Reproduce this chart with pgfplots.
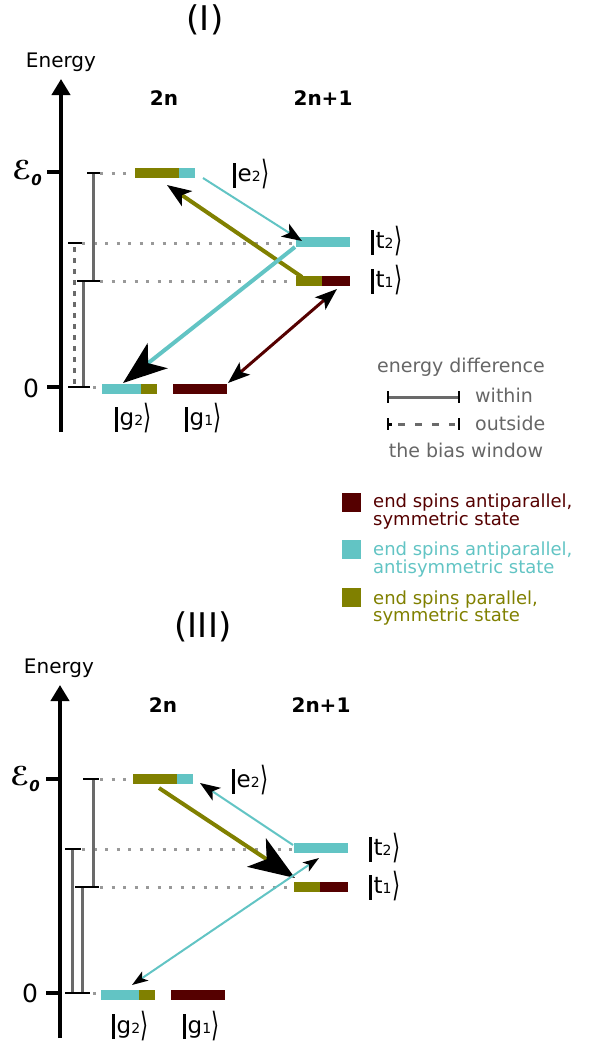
\RequirePackage{fix-cm}
\documentclass[border=0pt]{standalone}
\usepackage{graphicx}
\usepackage{fontspec}
\setmainfont{DejaVu Sans}
\usepackage{pgfplots}
\pgfplotsset{compat=1.18}
\usetikzlibrary{arrows.meta}
\definecolor{cMar}{HTML}{550000}
\definecolor{cCya}{HTML}{62C4C4}
\definecolor{cOli}{HTML}{808000}
\definecolor{cBar}{HTML}{6A6A6A}
\definecolor{cDot}{HTML}{999999}
\definecolor{cTxt}{HTML}{666666}
\newcommand{\myket}[2]{\rule[-6pt]{3pt}{25pt}\kern1.5pt #1{\fontsize{14}{14}\selectfont #2}\kern0.5pt\raisebox{-3pt}{\scalebox{0.9}[1.45]{⟩}}}
\newcommand{\epsz}{{\bfseries\itshape ℰ}\raisebox{-6pt}{\fontsize{15}{15}\selectfont\bfseries\itshape 0}}
\tikzset{
  axarr/.style={arrows={-Triangle[length=16pt,width=18pt]}},
  hA/.style={arrows={-Stealth[length=20pt,width=15pt,inset=5pt,color=black]}},
  hB/.style={arrows={-Stealth[length=24pt,width=18pt,inset=6pt,color=black]}},
  hC/.style={arrows={-Stealth[length=44pt,width=32pt,inset=12pt,color=black]}},
  hD/.style={arrows={-Stealth[length=22pt,width=16pt,inset=5pt,color=black]}},
  hE/.style={arrows={-Stealth[length=46pt,width=34pt,inset=12pt,color=black]}},
  hF/.style={arrows={-Stealth[length=16pt,width=11pt,inset=4pt,color=black]}},
  lvl/.style={line width=10pt},
  dotl/.style={color=cDot, line width=3pt, dash pattern=on 3pt off 8.5pt},
  dbar/.style={color=cBar, line width=3pt},
  tck/.style={color=black, line width=1.8pt},
}
\begin{document}
\begin{tikzpicture}
\begin{axis}[name=ax, scale only axis, width=591pt, height=1045pt,
  xmin=0, xmax=591, ymin=0, ymax=1045, y dir=reverse, hide axis, clip=false]
\addplot[draw=none] coordinates {(0,0) (591,1045)};
% PANEL (I)
\addplot[color=black, line width=4pt, axarr] coordinates {(61,432) (61,79)};
\addplot[color=black, line width=4pt] coordinates {(47,172) (61,172)};
\addplot[color=black, line width=4pt] coordinates {(47,387) (61,387)};
\addplot[dotl] coordinates {(100,173) (133,173)};
\addplot[dotl] coordinates {(82,243) (296,243)};
\addplot[dotl] coordinates {(100,281) (296,281)};
\addplot[dotl] coordinates {(93,387) (101,387)};
\addplot[dbar] coordinates {(93,173) (93,281)};
\addplot[dbar] coordinates {(83,281) (83,387)};
\addplot[color=cBar, line width=3pt, dash pattern=on 5pt off 6pt] coordinates {(74,247) (74,387)};
\addplot[tck] coordinates {(87,173) (100,173)};
\addplot[tck] coordinates {(77,281) (100,281)};
\addplot[tck] coordinates {(68,387) (90,387)};
\addplot[tck] coordinates {(68,243) (82,243)};
\addplot[lvl, color=cOli] coordinates {(135,173) (179,173)};
\addplot[lvl, color=cCya] coordinates {(179,173) (195,173)};
\addplot[lvl, color=cCya] coordinates {(296,242) (350,242)};
\addplot[lvl, color=cOli] coordinates {(296,281) (322,281)};
\addplot[lvl, color=cMar] coordinates {(322,281) (350,281)};
\addplot[lvl, color=cCya] coordinates {(102,389) (141,389)};
\addplot[lvl, color=cOli] coordinates {(141,389) (157,389)};
\addplot[lvl, color=cMar] coordinates {(173,389) (227,389)};
\addplot[color=cCya, line width=2pt, hA] coordinates {(203,178) (302,241)};
\addplot[color=cOli, line width=4pt, hB] coordinates {(302,277) (167,185)};
\addplot[color=cCya, line width=4pt, hC] coordinates {(295,247) (123,383)};
\addplot[color=cMar, line width=3pt, hD] coordinates {(282.5,336) (228,383)};
\addplot[color=cMar, line width=3pt, hD] coordinates {(282.5,336) (337,289)};
% energy difference legend
\addplot[color=cBar, line width=3pt] coordinates {(388,397) (459,397)};
\addplot[tck] coordinates {(388,391) (388,403)};
\addplot[tck] coordinates {(459,391) (459,403)};
\addplot[tck] coordinates {(388,418) (388,430)};
\addplot[color=black, line width=3pt] coordinates {(388,424) (392,424)};
\addplot[color=cBar, line width=3pt, dash pattern=on 7pt off 10pt] coordinates {(398,424) (455,424)};
\addplot[tck] coordinates {(459,418) (459,430)};
% colour legend
\addplot[color=cMar, line width=19pt] coordinates {(342,502) (361,502)};
\addplot[color=cCya, line width=19pt] coordinates {(342,549) (361,549)};
\addplot[color=cOli, line width=19pt] coordinates {(342,597) (361,597)};
% PANEL (III)
\addplot[color=black, line width=4pt, axarr] coordinates {(60,1038) (60,685)};
\addplot[color=black, line width=4pt] coordinates {(46,779) (60,779)};
\addplot[color=black, line width=4pt] coordinates {(46,993) (60,993)};
\addplot[dotl] coordinates {(100,779) (133,779)};
\addplot[dotl] coordinates {(82,849) (294,849)};
\addplot[dotl] coordinates {(100,887) (294,887)};
\addplot[dotl] coordinates {(93,993) (101,993)};
\addplot[dbar] coordinates {(93,779) (93,887)};
\addplot[dbar] coordinates {(72,849) (72,993)};
\addplot[dbar] coordinates {(82,887) (82,993)};
\addplot[tck] coordinates {(83,779) (99,779)};
\addplot[tck] coordinates {(75,887) (99,887)};
\addplot[tck] coordinates {(65,849) (81,849)};
\addplot[tck] coordinates {(65,993) (90,993)};
\addplot[lvl, color=cOli] coordinates {(133,779) (177,779)};
\addplot[lvl, color=cCya] coordinates {(177,779) (193,779)};
\addplot[lvl, color=cCya] coordinates {(294,848) (348,848)};
\addplot[lvl, color=cOli] coordinates {(294,887) (320,887)};
\addplot[lvl, color=cMar] coordinates {(320,887) (348,887)};
\addplot[lvl, color=cCya] coordinates {(101,995) (139,995)};
\addplot[lvl, color=cOli] coordinates {(139,995) (155,995)};
\addplot[lvl, color=cMar] coordinates {(171,995) (225,995)};
\addplot[color=cOli, line width=4pt, hE] coordinates {(159,788) (295,878)};
\addplot[color=cCya, line width=2pt, hA] coordinates {(293,845) (200,783)};
\addplot[color=cCya, line width=2pt, hF] coordinates {(225.5,921.5) (132,985)};
\addplot[color=cCya, line width=2pt, hF] coordinates {(225.5,921.5) (319,858)};
\end{axis}
\begin{scope}[shift={(ax.north west)}, x=1pt, y=-1pt]
\node[anchor=base] at (205,31) {\fontsize{34}{36}\selectfont (I)};
\node[anchor=base] at (61,68) {\fontsize{20}{24}\selectfont Energy};
\node[anchor=base] at (164,106) {\fontsize{20}{24}\selectfont\bfseries 2n};
\node[anchor=base] at (323,106) {\fontsize{20}{24}\selectfont\bfseries 2n+1};
\node[anchor=base] at (27,180) {\fontsize{26}{28}\selectfont\epsz};
\node[anchor=base] at (31,398) {\fontsize{25}{28}\selectfont 0};
\node[anchor=base west, inner sep=0pt] at (233,182) {\fontsize{23}{26}\selectfont\myket{e}{2}};
\node[anchor=base west, inner sep=0pt] at (371,249) {\fontsize{23}{26}\selectfont\myket{t}{2}};
\node[anchor=base west, inner sep=0pt] at (371,288) {\fontsize{23}{26}\selectfont\myket{t}{1}};
\node[anchor=base west, inner sep=0pt] at (115,426) {\fontsize{23}{26}\selectfont\myket{g}{2}};
\node[anchor=base west, inner sep=0pt] at (185,426) {\fontsize{23}{26}\selectfont\myket{g}{1}};
\node[anchor=base, text=cTxt] at (461,373) {\fontsize{19}{22}\selectfont energy difference};
\node[anchor=base west, text=cTxt, inner sep=0pt] at (475,403) {\fontsize{19}{22}\selectfont within};
\node[anchor=base west, text=cTxt, inner sep=0pt] at (475,431) {\fontsize{19}{22}\selectfont outside};
\node[anchor=base, text=cTxt] at (466,458) {\fontsize{19}{22}\selectfont the bias window};
\node[anchor=base west, inner sep=0pt, text=cMar] at (373,508) {\fontsize{18}{18}\selectfont end spins antiparallel,};
\node[anchor=base west, inner sep=0pt, text=cMar] at (373,526) {\fontsize{18}{18}\selectfont symmetric state};
\node[anchor=base west, inner sep=0pt, text=cCya] at (373,556) {\fontsize{18}{18}\selectfont end spins antiparallel,};
\node[anchor=base west, inner sep=0pt, text=cCya] at (373,574) {\fontsize{18}{18}\selectfont antisymmetric state};
\node[anchor=base west, inner sep=0pt, text=cOli] at (373,605) {\fontsize{18}{18}\selectfont end spins parallel,};
\node[anchor=base west, inner sep=0pt, text=cOli] at (373,622) {\fontsize{18}{18}\selectfont symmetric state};
\node[anchor=base] at (203,638) {\fontsize{34}{36}\selectfont (III)};
\node[anchor=base] at (59,674) {\fontsize{20}{24}\selectfont Energy};
\node[anchor=base] at (163,713) {\fontsize{20}{24}\selectfont\bfseries 2n};
\node[anchor=base] at (321,713) {\fontsize{20}{24}\selectfont\bfseries 2n+1};
\node[anchor=base] at (25,786) {\fontsize{26}{28}\selectfont\epsz};
\node[anchor=base] at (30,1003) {\fontsize{25}{28}\selectfont 0};
\node[anchor=base west, inner sep=0pt] at (232,788) {\fontsize{23}{26}\selectfont\myket{e}{2}};
\node[anchor=base west, inner sep=0pt] at (369,856) {\fontsize{23}{26}\selectfont\myket{t}{2}};
\node[anchor=base west, inner sep=0pt] at (369,894) {\fontsize{23}{26}\selectfont\myket{t}{1}};
\node[anchor=base west, inner sep=0pt] at (112,1033) {\fontsize{23}{26}\selectfont\myket{g}{2}};
\node[anchor=base west, inner sep=0pt] at (183,1033) {\fontsize{23}{26}\selectfont\myket{g}{1}};
\end{scope}
\end{tikzpicture}
\end{document}
